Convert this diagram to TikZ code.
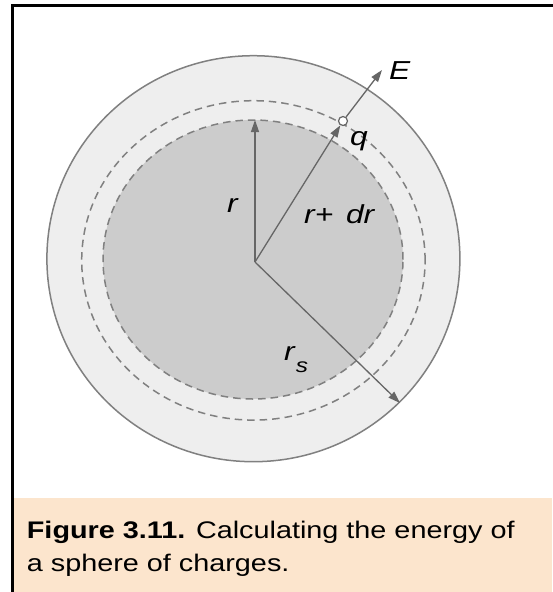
\documentclass[tikz,border=0pt]{standalone}
\usepackage{fontspec}
\setmainfont{Liberation Sans}
\newfontfamily\capfont[FakeStretch=1.2]{Liberation Sans}
\newfontfamily\lblfont[FakeStretch=1.22]{Liberation Sans}
\usetikzlibrary{arrows.meta}
\definecolor{capbg}{HTML}{FCE5CD}
\definecolor{shellfill}{HTML}{EEEEEE}
\definecolor{corefill}{HTML}{CCCCCC}
\definecolor{edgegrey}{HTML}{808080}
\definecolor{arrgrey}{HTML}{666666}
\tikzset{
  vec/.style={draw=arrgrey, line width=1.3pt, -{Triangle[length=12pt,width=8pt]}},
  dashring/.style={draw=edgegrey, line width=1.5pt, dash pattern=on 7.5pt off 5pt},
  lbl/.style={anchor=base west, inner sep=0pt, font=\lblfont\fontsize{26}{26}\selectfont\itshape},
  captxt/.style={anchor=base west, inner sep=0pt, font=\capfont\fontsize{24}{33}\selectfont}
}
\begin{document}
\begin{tikzpicture}[x=1pt,y=-1pt]
\useasboundingbox (0,0) rectangle (552,592);
\fill[white] (0,0) rectangle (552,592);
% caption background
\fill[capbg] (13,498) rectangle (552,592);
% frame
\draw[line width=2.6pt] (12.5,600) -- (12.5,5.5) -- (560,5.5);
% sphere
\filldraw[fill=shellfill, draw=edgegrey, line width=1.5pt] (253.4,258.7) ellipse [x radius=206.5pt, y radius=203pt];
\fill[corefill] (253,259.5) ellipse [x radius=150pt, y radius=139.5pt];
\draw[dashring] (253,259.5) ellipse [x radius=150pt, y radius=139.5pt];
\draw[dashring] (253.4,260.4) ellipse [x radius=171.7pt, y radius=159.7pt];
% points
\coordinate (O) at (255,262);
\coordinate (rtip) at (255,120);
\coordinate (Etip) at (382,70);
\coordinate (rstip) at (400,403);
\node[circle, draw=arrgrey, fill=white, line width=1.2pt, minimum size=9pt, inner sep=0pt] (q) at (343,121) {};
% vectors
\draw[vec] (O) -- (rtip);
\draw[vec] (O) -- (q);
\draw[vec] (q) -- (Etip);
\draw[vec] (O) -- (rstip);
% labels
\node[lbl] (lr) at (227,212) {r};
\node[lbl] (lrdr) at (304,223) {r+\hspace{4pt} dr};
\node[lbl] (lE) at (389,79) {E};
\node[lbl] (lq) at (350,145) {q};
\node[lbl] (lrs) at (284,360) {r\hspace{1pt}\raisebox{-12pt}{\fontsize{20}{20}\selectfont s}};
% caption
\node[captxt] (cap1) at (26.7,538.3) {\textbf{Figure 3.11.} Calculating the energy of};
\node[captxt] (cap2) at (26.7,571.5) {a sphere of charges.};
\end{tikzpicture}
\end{document}
